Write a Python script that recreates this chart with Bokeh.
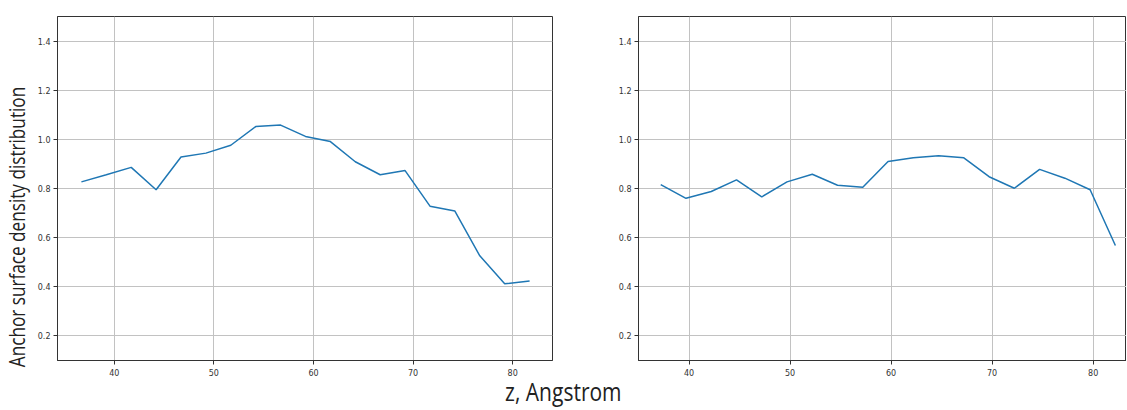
from bokeh.plotting import figure
from bokeh.layouts import row, column
from bokeh.models import Div, FixedTicker, Range1d, PrintfTickFormatter
from bokeh.embed import file_html
from bokeh.resources import INLINE

# ---- data ----
z_left = [36.7, 39.2, 41.7, 44.2, 46.7, 49.2, 51.7, 54.2, 56.7, 59.2,
          61.7, 64.2, 66.7, 69.2, 71.7, 74.2, 76.7, 79.2, 81.7]
density_left = [0.827, 0.856, 0.886, 0.795, 0.928, 0.944, 0.976, 1.052, 1.058, 1.012,
                0.991, 0.909, 0.856, 0.873, 0.728, 0.708, 0.526, 0.412, 0.424]

z_right = [37.2, 39.7, 42.2, 44.7, 47.2, 49.7, 52.2, 54.7, 57.2, 59.7,
           62.2, 64.7, 67.2, 69.7, 72.2, 74.7, 77.2, 79.7, 82.2]
density_right = [0.816, 0.760, 0.788, 0.835, 0.766, 0.827, 0.858, 0.813, 0.805, 0.910,
                 0.925, 0.933, 0.925, 0.848, 0.801, 0.878, 0.842, 0.795, 0.568]

x_ticks = [40, 50, 60, 70, 80]
y_ticks = [0.2, 0.4, 0.6, 0.8, 1.0, 1.2, 1.4]
y_label = "Anchor surface density distribution"
x_label = "z, Angstrom"

LINE = "#1f77b4"
AX = "#333333"


def make(xr, yr, width, height, bl, br, bt, bb):
    p = figure(width=width, height=height, output_backend="svg", toolbar_location=None,
               x_range=Range1d(*xr), y_range=Range1d(*yr),
               min_border_left=bl, min_border_right=br, min_border_top=bt, min_border_bottom=bb)
    p.background_fill_color = "white"
    p.border_fill_color = "white"
    p.outline_line_color = AX
    p.outline_line_width = 1
    for ax in (p.xaxis[0], p.yaxis[0]):
        ax.axis_line_color = AX
        ax.major_tick_line_color = AX
        ax.major_tick_out = 4
        ax.major_tick_in = 0
        ax.minor_tick_line_color = None
        ax.major_label_text_font = "DejaVu Sans"
        ax.major_label_text_font_size = "8px"
        ax.major_label_text_color = AX
        ax.major_label_standoff = 3
    p.xaxis.ticker = FixedTicker(ticks=x_ticks)
    p.yaxis.ticker = FixedTicker(ticks=y_ticks)
    p.yaxis.formatter = PrintfTickFormatter(format="%.1f")
    p.xaxis.major_label_standoff = 4
    for g in (p.xgrid[0], p.ygrid[0]):
        g.grid_line_color = "#c2c2c2"
        g.grid_line_width = 1
    return p


p1 = make((34.3, 84.0), (0.1, 1.5), 568, 380, 27, 46, 16, 20)
p1.line(z_left, density_left, line_color=LINE, line_width=1.5)

p2 = make((35.0, 83.3), (0.1, 1.5), 528, 380, 40, 0, 13, 19)
p2.line(z_right, density_right, line_color=LINE, line_width=1.5)

ylab = Div(text='<div style="position:absolute; left:16px; top:227px; white-space:nowrap; '
                'transform: translate(-50%, -50%) rotate(-90deg) scaleX(0.78);">'
                + y_label + '</div>',
           width=30, height=380, margin=0,
           styles={"font-family": "'Open Sans', 'DejaVu Sans'", "font-size": "22px",
                   "line-height": "24px", "color": "#222222", "overflow": "visible"})

xlab = Div(text='<span style="display:inline-block; transform: scaleX(0.84); '
                'transform-origin: center;">' + x_label + '</span>',
           width=1127, height=24, margin=0,
           styles={"text-align": "center", "font-family": "'Open Sans', 'DejaVu Sans'",
                   "font-size": "25px", "line-height": "22px", "color": "#222222",
                   "overflow": "visible", "width": "1127px"})

layout = column(row(ylab, p1, p2), xlab)
open("out.html", "w").write(file_html(layout, INLINE))
